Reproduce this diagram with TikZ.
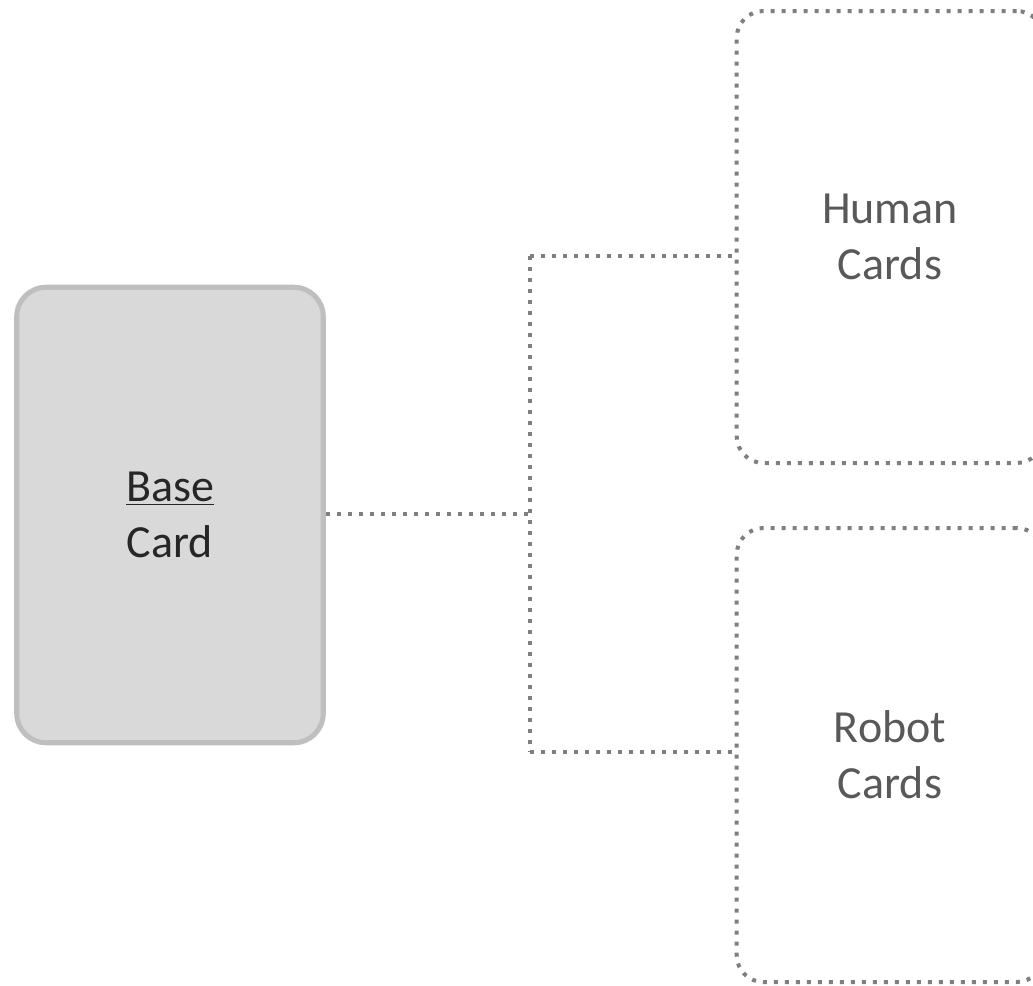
\documentclass[tikz,border=0pt]{standalone}
\usepackage{fontspec}
\setmainfont{Carlito}
\usepackage{xcolor}
\usetikzlibrary{positioning, calc}
\definecolor{cardfill}{HTML}{D9D9D9}
\definecolor{cardline}{HTML}{BFBFBF}
\definecolor{dotline}{HTML}{7F7F7F}
\definecolor{basetext}{HTML}{262626}
\definecolor{subtext}{HTML}{595959}

\begin{document}
\begin{tikzpicture}[
    x=0.75pt, y=-0.75pt,
    basecard/.style={rectangle, draw=cardline, fill=cardfill, line width=3.8pt, rounded corners=22pt,
        minimum width=229.9pt, minimum height=341.6pt, align=center, text=basetext,
        font=\fontsize{34.5}{42}\selectfont},
    subcard/.style={rectangle, draw=dotline, line width=3pt, dash pattern=on 3pt off 5.25pt,
        rounded corners=20pt, minimum width=229.9pt, align=center, text=subtext,
        font=\fontsize{34.5}{42}\selectfont},
    link/.style={draw=dotline, line width=3pt, dash pattern=on 3pt off 5.25pt}
]
    \useasboundingbox (0,0) rectangle (1033,986);

    % Cards
    \node[basecard] (base) at (170,515) {\underline{Base}\\Card};
    \node[subcard, minimum height=339pt] (human) at (890,237) {Human\\Cards};
    \node[subcard, minimum height=340.5pt] (robot) at (890,755) {Robot\\Cards};

    % Fork points
    \coordinate (fork) at (530,514);
    \coordinate (forkup) at (530,256);
    \coordinate (forkdown) at (530,752);

    % Connectors
    \draw[link] (base.east |- fork) -- (fork);
    \draw[link] (forkup) -- (forkdown);
    \draw[link] (forkup) -- (forkup -| human.west);
    \draw[link] (forkdown) -- (forkdown -| robot.west);
\end{tikzpicture}
\end{document}
